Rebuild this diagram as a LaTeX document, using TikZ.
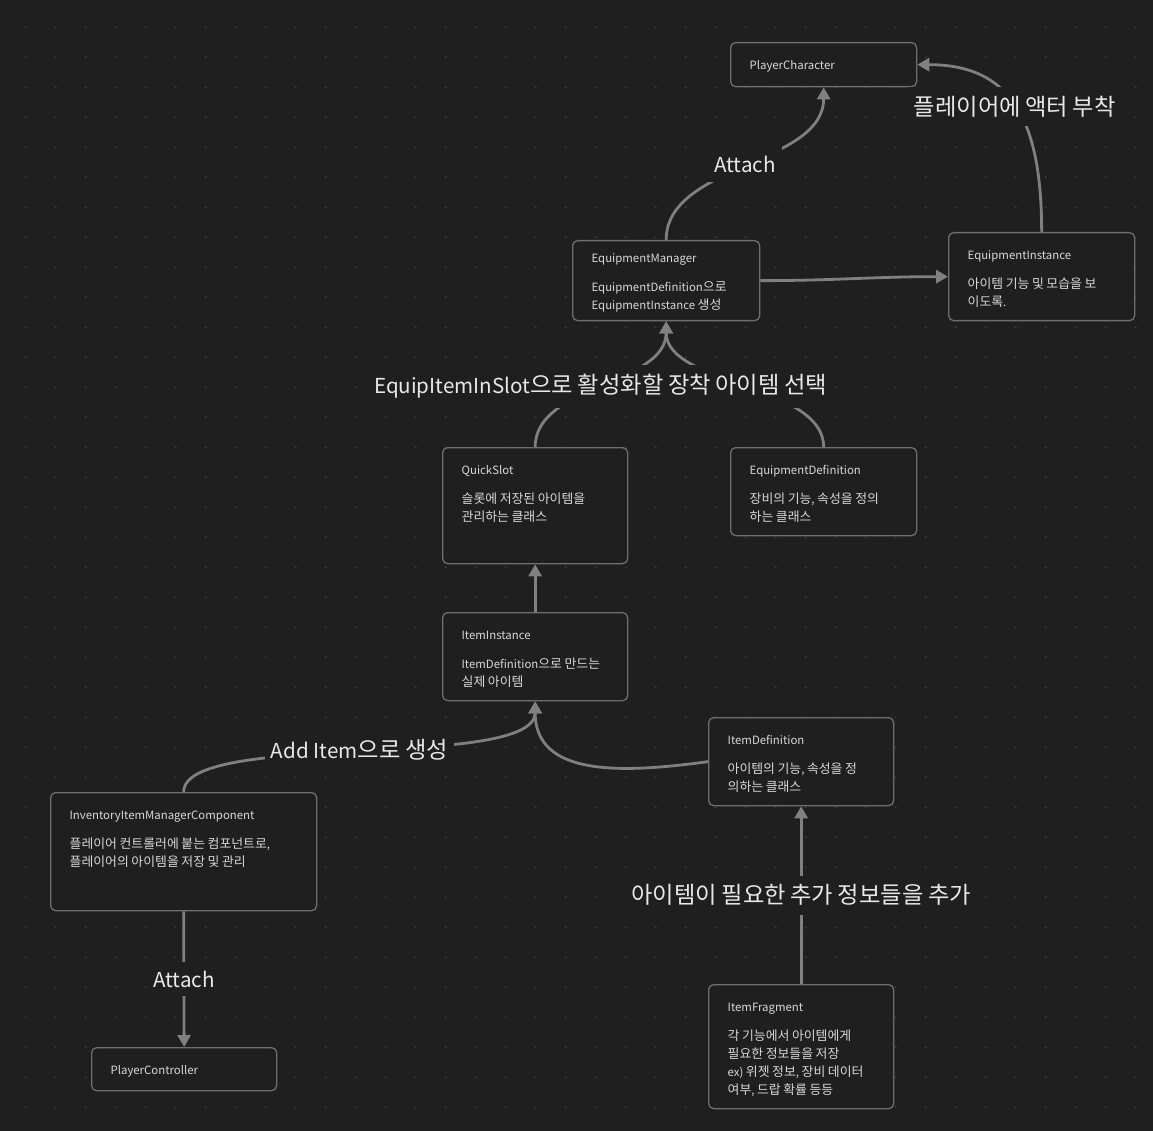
\documentclass[tikz,border=0pt]{standalone}
\usepackage{fontspec}
\setmainfont{Noto Sans CJK KR}
\newfontfamily\hgfam{Noto Sans CJK KR}[Scale=1.13]
% Hangul syllables a bit larger than the Latin letters
\XeTeXinterchartokenstate=1
\newXeTeXintercharclass\hgclass
\count255="AC00
\loop
	\XeTeXcharclass\count255=\hgclass
\ifnum\count255<"D7A3 \advance\count255 by 1 \repeat
\XeTeXinterchartoks 0 \hgclass = {\hgfam}
\XeTeXinterchartoks 4095 \hgclass = {\hgfam}
\XeTeXinterchartoks \hgclass 0 = {\rmfamily}
\XeTeXinterchartoks \hgclass 4095 = {\rmfamily}
\usepackage{tikz}
\usetikzlibrary{arrows.meta}
\definecolor{bgc}{HTML}{1F1F1F}
\definecolor{dotc}{HTML}{3A3A3A}
\definecolor{edgec}{HTML}{6E6E6E}
\definecolor{linec}{HTML}{808080}
\definecolor{txtc}{HTML}{D8D8D8}
\definecolor{lblc}{HTML}{E8E8E8}
\newcommand{\cardtext}[4][26.5pt]{\parbox[c][#3][t]{\dimexpr#2-18pt\relax}{\raggedright\leftskip=10pt\rule{0pt}{#1}#4}}
\tikzset{
	card/.style={draw=edgec, line width=1.3pt, fill=bgc, rounded corners=5pt, anchor=north west, inner xsep=9pt, inner ysep=0pt, text=txtc, font=\fontsize{11.4}{18}\selectfont},
	lbl/.style={fill=bgc, text=lblc, inner xsep=6pt, inner ysep=9pt, font=\fontsize{20.6}{25}\selectfont},
	link/.style={draw=linec, line width=2.8pt}
}

\begin{document}
\begin{tikzpicture}[x=1pt, y=-1pt, >={Triangle[length=12pt, width=13pt]}]
	
	\fill[bgc] (0,0) rectangle (1153,1131);
	\foreach \i in {0,...,37}
		\foreach \j in {0,...,36}
			\fill[dotc] (25.7+30*\i, 27.3+30*\j) circle (1.1pt);
	
	\node[card]	(PC)	at	(730,42)	{\cardtext{186pt}{44pt}{PlayerCharacter}};
	\node[card]	(EM)	at	(572,240)	{\cardtext[22pt]{187pt}{80pt}{EquipmentManager\\[11pt]EquipmentDefinition으로\\EquipmentInstance 생성}};
	\node[card]	(EI)	at	(948,232)	{\cardtext{186pt}{88pt}{EquipmentInstance\\[11pt]아이템 기능 및 모습을 보\\이도록.}};
	\node[card]	(QS)	at	(442,447)	{\cardtext{185pt}{116pt}{QuickSlot\\[11pt]슬롯에 저장된 아이템을\\관리하는 클래스}};
	\node[card]	(ED)	at	(730,447)	{\cardtext{186pt}{88pt}{EquipmentDefinition\\[11pt]장비의 기능, 속성을 정의\\하는 클래스}};
	\node[card]	(II)	at	(442,612)	{\cardtext{185pt}{88pt}{ItemInstance\\[11pt]ItemDefinition으로 만드는\\실제 아이템}};
	\node[card]	(ID)	at	(708,717)	{\cardtext{185pt}{88pt}{ItemDefinition\\[11pt]아이템의 기능, 속성을 정\\의하는 클래스}};
	\node[card]	(IIMC)	at	(50,792)	{\cardtext{266pt}{118pt}{InventoryItemManagerComponent\\[11pt]플레이어 컨트롤러에 붙는 컴포넌트로,\\플레이어의 아이템을 저장 및 관리}};
	\node[card]	(PCtrl)	at	(91,1047)	{\cardtext{185pt}{43pt}{PlayerController}};
	\node[card]	(IF)	at	(708,984)	{\cardtext{185pt}{124pt}{ItemFragment\\[11pt]각 기능에서 아이템에게\\필요한 정보들을 저장\\ex) 위젯 정보, 장비 데이터\\여부, 드랍 확률 등등}};
	
	\draw[link, ->] (EM.north) .. controls +(0,-76) and +(0,78) .. node[lbl]{Attach} (PC.south);
	\draw[link, ->] (EI.north) .. controls +(0,-112) and +(94,0) .. node[lbl]{플레이어에 액터 부착} (PC.east);
	\draw[link, ->] (EM.east) to [out=0, in=180] (EI.west);
	\draw[link, ->] (ED.north) .. controls +(0,-63) and +(0,64) .. (EM.south);
	\draw[link, ->] (QS.north) .. controls +(0,-63) and +(0,64) .. node[lbl, yshift=-2pt]{EquipItemInSlot으로 활성화할 장착 아이템 선택} (EM.south);
	\draw[link, ->] (II.north) -- (QS.south);
	\draw[link, ->] (ID.west) .. controls +(-88,12) and +(0,75) .. (II.south);
	\draw[link, ->] (IIMC.north) .. controls +(0,-62) and +(0,70) .. node[lbl]{Add Item으로 생성} (II.south);
	\draw[link, ->] (IF.north) -- node[lbl]{아이템이 필요한 추가 정보들을 추가} (ID.south);
	\draw[link, ->] (IIMC.south) -- node[lbl]{Attach} (PCtrl.north);
\end{tikzpicture}
\end{document}
